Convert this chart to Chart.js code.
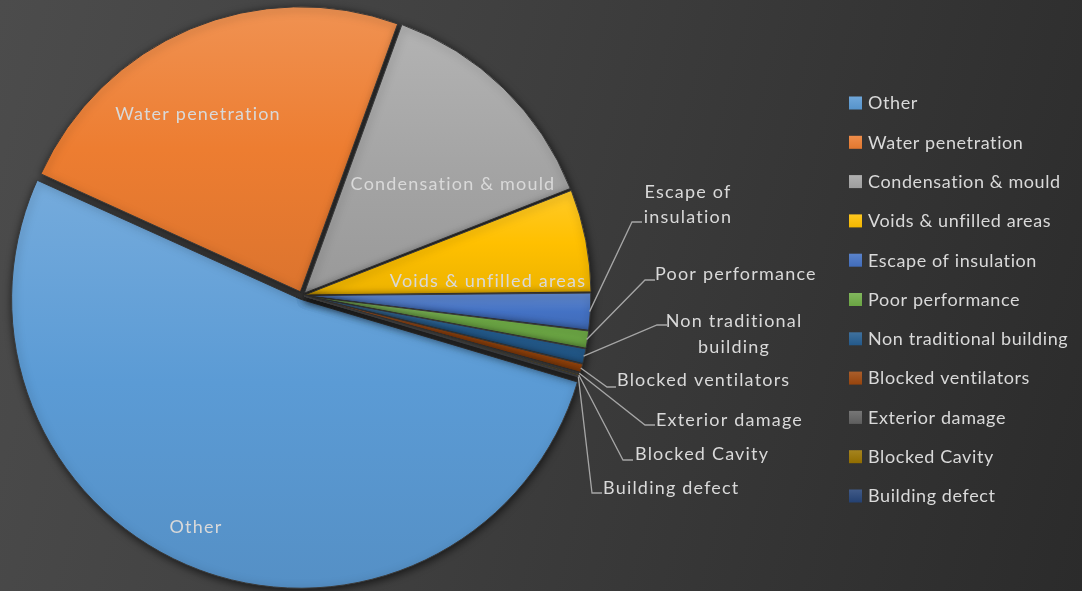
<!DOCTYPE html>
<html>
<head>
<meta charset="utf-8">
<script src="https://cdn.jsdelivr.net/npm/chart.js@4.4.1/dist/chart.umd.min.js"></script>
<style>
  html, body { margin: 0; padding: 0; overflow: hidden; }
  body {
    width: 1082px; height: 591px;
    background: linear-gradient(105deg, #4c4c4c 0%, #404040 40%, #2b2b2b 100%);
  }
  canvas { display: block; }
</style>
</head>
<body>
<canvas id="pieChart" width="1082" height="591"></canvas>
<script>
const categories = [
  'Other', 'Water penetration', 'Condensation & mould', 'Voids & unfilled areas',
  'Escape of insulation', 'Poor performance', 'Non traditional building',
  'Blocked ventilators', 'Exterior damage', 'Blocked Cavity', 'Building defect'
]
// share of reported cases, %
const shares = [52.2, 23.75, 13.5, 5.8, 2.1, 1.0, 0.86, 0.5, 0.1, 0.1, 0.08]
const baseColors = [
  '#5B9BD5', '#ED7D31', '#A5A5A5', '#FFC000', '#4472C4', '#70AD47',
  '#255E91', '#9E480E', '#636363', '#997300', '#264478'
]

const ROTATION = 106.5
const TEXT = '#d9d9d9'
const FONT = '18px Lato, "Liberation Sans", sans-serif'

// labels sitting inside the big slices
const insideLabels = [
  { i: 0, x: 196, y: 527 },
  { i: 1, x: 198, y: 114 },
  { i: 2, x: 453, y: 184 },
  { i: 3, x: 488, y: 281 }
]
// labels outside with leader lines: elbow point, then text start
const outsideLabels = [
  { i: 4, elbow: [632, 222], end: 642, lines: ['Escape of', 'insulation'], tx: 688, ty: [192, 217], center: true },
  { i: 5, elbow: [645, 280], end: 655, lines: ['Poor performance'], tx: 655, ty: [274] },
  { i: 6, elbow: [657, 325], end: 667, lines: ['Non traditional', 'building'], tx: 734, ty: [321, 347], center: true },
  { i: 7, elbow: [607, 387], end: 616, lines: ['Blocked ventilators'], tx: 617, ty: [380] },
  { i: 8, elbow: [645, 425], end: 655, lines: ['Exterior damage'], tx: 656, ty: [420] },
  { i: 9, elbow: [623, 460], end: 633, lines: ['Blocked Cavity'], tx: 635, ty: [454] },
  { i: 10, elbow: [592, 493], end: 602, lines: ['Building defect'], tx: 603, ty: [488] }
]

const tint = (hex, f) => {
  const n = parseInt(hex.slice(1), 16)
  const ch = [n >> 16, (n >> 8) & 255, n & 255].map(c =>
    f >= 0 ? Math.round(c + (255 - c) * f) : Math.round(c * (1 + f)))
  return `rgb(${ch.join(',')})`
}

// vertical gradient over each slice's own bounding box, like the office style
const sliceFill = (c) => {
  const i = c.dataIndex
  const base = baseColors[i]
  const chart = c.chart
  const ca = chart.chartArea
  if (c.type !== 'data' || !ca) return base
  const ctrl = chart.getDatasetMeta(0).controller
  const r = ctrl.outerRadius || 285
  const cy = (ca.top + ca.bottom) / 2
  const total = shares.reduce((a, b) => a + b, 0)
  let a0 = (ROTATION - 90) * Math.PI / 180
  for (let k = 0; k < i; k++) a0 += shares[k] / total * Math.PI * 2
  const a1 = a0 + shares[i] / total * Math.PI * 2
  const ys = [cy, cy + r * Math.sin(a0), cy + r * Math.sin(a1)]
  for (const t of [-Math.PI / 2, Math.PI / 2, Math.PI * 1.5, Math.PI * 2.5]) {
    if (t > a0 && t < a1) ys.push(cy + r * Math.sin(t))
  }
  const y0 = Math.min(...ys)
  const y1 = Math.max(...ys)
  if (y1 - y0 < 1) return base
  const g = chart.ctx.createLinearGradient(0, y0, 0, y1)
  g.addColorStop(0, tint(base, 0.16))
  g.addColorStop(0.5, base)
  g.addColorStop(1, tint(base, -0.07))
  return g
}

const shadowPlugin = {
  id: 'sliceShadow',
  beforeDatasetsDraw(chart) {
    const ctx = chart.ctx
    ctx.save()
    ctx.shadowColor = 'rgba(0,0,0,0.65)'
    ctx.shadowBlur = 8
    ctx.shadowOffsetX = 1
    ctx.shadowOffsetY = 2
  },
  afterDatasetsDraw(chart) {
    chart.ctx.restore()
  }
}

const labelPlugin = {
  id: 'pieLabels',
  afterDraw(chart) {
    const ctx = chart.ctx
    const arcs = chart.getDatasetMeta(0).data
    ctx.save()
    ctx.font = FONT
    ctx.fillStyle = TEXT
    ctx.textBaseline = 'middle'
    ctx.letterSpacing = '1.2px'

    insideLabels.forEach(l => {
      ctx.textAlign = 'center'
      ctx.fillText(categories[l.i], l.x, l.y)
    })

    outsideLabels.forEach(l => {
      const arc = arcs[l.i]
      const mid = (arc.startAngle + arc.endAngle) / 2
      const rr = arc.outerRadius + 3
      const sx = arc.x + Math.cos(mid) * rr
      const sy = arc.y + Math.sin(mid) * rr
      ctx.strokeStyle = '#a6a6a6'
      ctx.lineWidth = 1.3
      ctx.beginPath()
      ctx.moveTo(sx, sy)
      ctx.lineTo(l.elbow[0], l.elbow[1])
      ctx.lineTo(l.end, l.elbow[1])
      ctx.stroke()
      ctx.textAlign = l.center ? 'center' : 'left'
      l.lines.forEach((t, k) => ctx.fillText(t, l.tx, l.ty[k]))
    })

    // legend
    ctx.letterSpacing = '0.6px'
    ctx.textAlign = 'left'
    categories.forEach((name, i) => {
      const y = 103 + i * 39.3
      const g = ctx.createLinearGradient(0, y - 6.5, 0, y + 6.5)
      g.addColorStop(0, tint(baseColors[i], 0.12))
      g.addColorStop(1, tint(baseColors[i], -0.05))
      ctx.fillStyle = g
      ctx.fillRect(849, y - 6.5, 13, 13)
      ctx.fillStyle = TEXT
      ctx.fillText(name, 868, y + 0.5)
    })
    ctx.restore()
  }
}

new Chart(document.getElementById('pieChart').getContext('2d'), {
  type: 'pie',
  data: {
    labels: categories,
    datasets: [{
      data: shares,
      backgroundColor: sliceFill,
      borderColor: '#3a3a3a',
      borderWidth: 1,
      offset: [16, 16, 13, 10, 8, 8, 8, 8, 8, 8, 8],
      radius: 285
    }]
  },
  options: {
    responsive: false,
    animation: false,
    devicePixelRatio: 1,
    rotation: ROTATION,
    layout: { padding: { left: 0, right: 478, top: 0, bottom: 0 } },
    plugins: {
      legend: { display: false },
      tooltip: { enabled: false }
    }
  },
  plugins: [shadowPlugin, labelPlugin]
})
</script>
</body>
</html>
